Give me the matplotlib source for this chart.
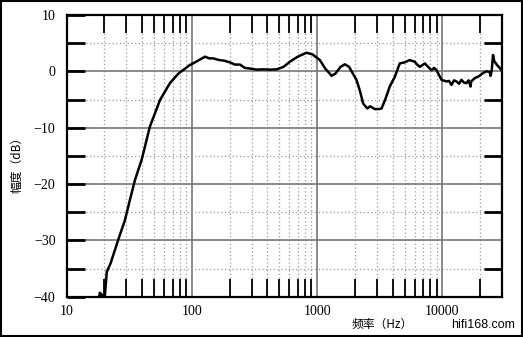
import matplotlib
matplotlib.use("Agg")
import matplotlib.pyplot as plt
from matplotlib.patches import Rectangle
from matplotlib.ticker import FixedLocator, NullFormatter

# frequency response (Hz, dB)
freq = [18.0, 18.4, 19.0, 19.6, 20.2, 20.9, 22.4, 25.8, 29.2, 32.0, 35.1, 37.3,
        39.7, 46.2, 55.6, 66.7, 78, 96, 110, 127, 138, 148, 165, 180, 201, 220,
        242, 265, 290, 330, 371, 420, 474, 540, 605, 700, 822, 920, 1052, 1160,
        1262, 1304, 1400, 1540, 1664, 1800, 2060, 2200, 2330, 2520, 2650, 2890,
        3100, 3270, 3500, 3800, 4170, 4570, 5000, 5490, 6020, 6300, 6610, 7250,
        7700, 8190, 8600, 8990, 9840, 10790, 11300, 11830, 12400, 13000, 13600,
        14200, 14900, 15560, 16200, 16800, 17000, 18160, 19500, 21150, 22500,
        23900, 24300, 24800, 25400, 26000, 27400, 29800]
level = [-40.5, -39.3, -39.6, -40.5, -39.7, -35.6, -34.1, -29.9, -26.4, -22.8, -19.3, -17.5,
         -15.7, -9.8, -5.1, -2.1, -0.4, 1.1, 1.8, 2.6, 2.3, 2.3, 2.0, 1.9, 1.6, 1.2,
         1.2, 0.6, 0.5, 0.3, 0.35, 0.3, 0.35, 0.8, 1.7, 2.6, 3.3, 3.0, 2.0, 0.5,
         -0.4, -0.8, -0.4, 0.8, 1.25, 0.8, -1.5, -3.5, -5.7, -6.6, -6.2, -6.7,
         -6.7, -6.6, -5.0, -2.7, -1.0, 1.4, 1.6, 2.0, 1.7, 1.2, 0.8, 1.4,
         0.8, 0.2, 0.6, 0.2, -1.5, -1.8, -1.7, -2.4, -1.6, -1.8, -2.2,
         -1.5, -2.0, -2.1, -1.6, -2.7, -1.8, -1.2, -0.9, -0.3, 0.0,
         -0.1, -0.8, 0.2, 2.9, 1.8, 1.1, 0.2]

x_major = [10, 100, 1000, 10000]
x_labels = ["10", "100", "1000", "10000"]
x_minor = [20, 30, 40, 50, 60, 70, 80, 90,
           200, 300, 400, 500, 600, 700, 800, 900,
           2000, 3000, 4000, 5000, 6000, 7000, 8000, 9000, 20000]
y_major = [-40, -30, -20, -10, 0, 10]
y_labels = ["\u221240", "\u221230", "\u221220", "\u221210", "0", "10"]
y_minor = [-35, -25, -15, -5, 5]

fig = plt.figure(figsize=(5.23, 3.37), dpi=100)
ax = fig.add_axes([0.1275, 0.1196, 0.8318, 0.8359])

ax.plot(freq, level, color="black", lw=1.8, solid_joinstyle="round")

ax.set_xscale("log")
ax.set_xlim(10, 29800)
ax.set_ylim(-40, 10)

ax.xaxis.set_major_locator(FixedLocator(x_major))
ax.set_xticklabels(x_labels)
ax.xaxis.set_minor_locator(FixedLocator(x_minor))
ax.xaxis.set_minor_formatter(NullFormatter())
ax.set_yticks(y_major)
ax.set_yticklabels(y_labels)
ax.yaxis.set_minor_locator(FixedLocator(y_minor))

ax.grid(True, which="major", color="#777777", lw=1.2, ls="-")
ax.grid(True, which="minor", color="#999999", lw=0.9, ls=(0, (1, 2)))

ax.tick_params(axis="x", which="major", length=0, pad=6)
ax.tick_params(axis="x", which="minor", direction="in", length=13, width=1.3,
               top=True, bottom=True)
ax.tick_params(axis="y", which="both", direction="in", length=13, width=2,
               left=True, right=True, pad=8)
ax.tick_params(axis="y", which="major", right=False)

for lab in ax.get_xticklabels() + ax.get_yticklabels():
    lab.set_fontfamily("Liberation Serif")
    lab.set_fontsize(10)

for s in ax.spines.values():
    s.set_linewidth(1.6)

fig.text(0.730, 0.038, "频率（Hz）", family=["Noto Sans CJK SC", "DejaVu Sans"],
         fontsize=8.5, ha="center", va="center")
fig.text(0.031, 0.519, "幅度（dB）", family=["Noto Sans CJK SC", "DejaVu Sans"],
         fontsize=8.5, ha="center", va="center", rotation=90)
fig.text(0.985, 0.035, "hifi168.com", family="Liberation Sans", fontsize=9,
         ha="right", va="center")

fig.add_artist(Rectangle((0.002, 0.003), 0.996, 0.994, transform=fig.transFigure,
                         fill=False, lw=1.5, color="black"))

fig.savefig("out.png", dpi=100)
